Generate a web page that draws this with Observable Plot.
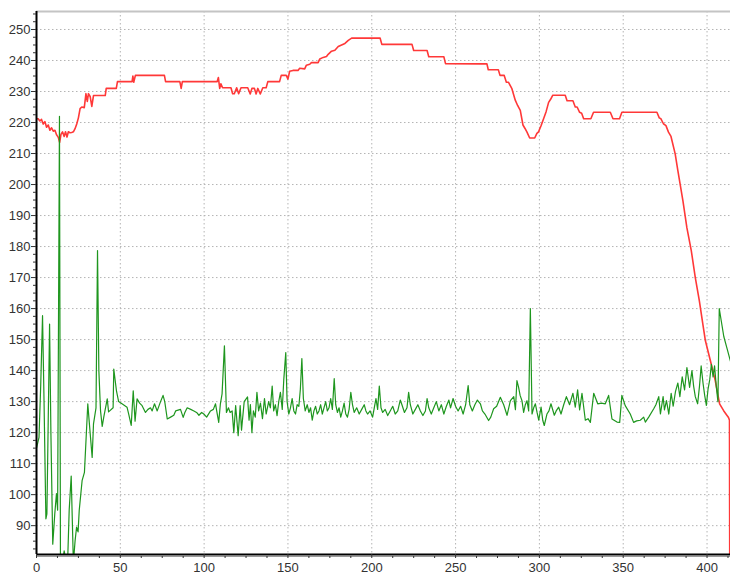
<!DOCTYPE html>
<html>
<head>
<meta charset="utf-8">
<script src="https://cdn.jsdelivr.net/npm/d3@7"></script>
<script src="https://cdn.jsdelivr.net/npm/@observablehq/plot@0.6"></script>
<style>
  body { margin: 0; background: #fff; }
</style>
</head>
<body>
<div id="chart"></div>
<script>
// Red trace: vertices (sample index, value)
const redX = [0,1,2,3,4,5,6,7,8,9,10,11,12,13,13.8,14.6,15.5,16.5,17.3,18.2,19,20,21,22,23,24,25,26,27,28.5,29.5,30.3,31,32,33,34,41,41.6,47.6,48.3,57,57.5,58,59,76.3,77,85.5,86.3,87,107.8,108.5,109.3,110,111,116,117,118,119.4,120.6,122,126,127.5,128.5,130,131,132,133.5,135,137,138,145,146,149,150,151,153,156,157,160,161,163,164,168,169,171,173,174,176,178,180,182,184,186,188,205,206,224,225,233,234,243,244,265,268.7,269.5,275.5,276.5,279,280.3,281.5,283.6,285.6,287,288.6,290.2,291.5,292.6,294.2,297.2,298.5,299.5,301,302.5,304,305.5,306.7,308,315.4,316.5,320,321.4,322.5,324,325.2,326.4,330.7,332.3,342.3,343.9,347.8,349.2,370.1,371.5,372.5,374,375.5,377,378.5,381,382.6,384,385.6,388,390.6,393,395.4,397.5,399,402,404.9,407.5,410,412.8,413.4,413.6];
const redY = [221.2,221.2,220.5,221,219.5,220.3,218.5,219.2,217.5,218.3,217.2,217.5,216,215.2,213.6,216.2,217,215.5,217,215.3,217,216.7,216.8,217,218,219.5,221.5,224.5,225,224.8,229.3,226.8,229.3,228.4,225.2,228.7,228.7,231,231,233.2,233.2,235,233,235.2,235.2,233.2,233.2,231,233.2,233.2,234.5,231,232.5,231.2,231.2,229.3,229.3,231.2,229.3,231.2,231.2,229.2,231,231,229.2,231,229.2,231.2,231.2,233.2,233.2,235.2,235.2,234,236.5,236.8,236.8,237.5,237.3,238.5,238.8,239.3,239.3,240.5,241,241.3,242,243,243.3,244.5,245,245.5,246.5,247.2,247.2,245.2,245.2,243.2,243.2,241.2,241.2,239,238.9,238.9,237,237,235.2,235.2,233,233,230.9,227.2,225.5,223.9,219.2,218,216.9,215,215,216.5,217,219,221.2,223.5,226.5,227.5,228.8,228.8,227,227,225,225,223.3,223,221.2,221.2,223.3,223.3,221.2,221.2,223.3,223.3,221.5,221.2,219.6,219,216.9,215.5,209.9,204.5,200,194.8,186,178.7,170,162.6,155,149.7,143.2,136.8,129.3,127,124.9,124,60];

// Green trace: vertices (sample index, value)
const greenX = [0,1.5,2.5,3.6,4.5,5.6,6.2,7.8,8.6,9.7,10.9,11.9,12.6,13.7,14.3,15.5,16.5,17.5,18.5,19.5,20.7,21.3,22,23,23.9,24.8,25.5,27.2,28.6,30.6,31.3,33.2,34,35.5,36.4,37.2,38.2,39.2,40.1,42.2,43,45.7,46.1,47.7,49,51,54,55,56.5,57.7,58.8,60,61.5,63,65,66.5,68,69,70.4,72,74,75.5,76.5,78,80,81.9,83,85.9,87.5,88.5,89.9,92,93.9,95.5,96.9,98.5,99.8,101.5,103.8,105.5,106.8,107.5,108.7,109.7,110.7,112.1,113.3,114.5,115.5,116.7,117.7,118.8,120.3,121.5,122.3,123.9,125.9,126.8,127.6,128.5,129.4,130.5,131.5,132.5,133.6,134.8,136,137,138.5,139.5,140.6,141.5,142.5,143.5,144.5,145.5,146.6,147.5,148.7,149.5,150.5,151.5,152.5,153.5,154.5,155.5,156.5,157.4,158.3,159.2,160.3,161.5,162.5,163.5,164.5,165.5,166.5,167.5,168.5,169.5,170.5,171.5,172.5,173.5,174.5,175.5,176.5,177.6,178.5,179.5,180.5,181.5,182.5,183.5,184.5,185.5,186.5,187.5,188.5,189.5,191,192.5,194,195.5,196.5,197.5,199,200.5,201.5,202.5,203.5,204.5,205.5,206.5,208,209.5,211,212.5,214,215.5,217,218,219.5,221,222,223,224.5,226,227.5,229,230.5,232,233,234,235.5,237,238.5,240,241.5,243,244.5,246,247,248.5,250,251.5,253,254.5,256,257.5,258.5,260,261.5,263,264.8,266,267.5,269.7,271,272.7,274.5,276.7,278.7,280.7,282.7,284.7,285.7,286.6,287.6,288.5,289.6,290.6,291.6,292.6,293.6,294.6,295.6,296.6,297.6,298.6,299.6,301,302,302.9,304.5,305.7,306.9,308.9,310,311.5,312.9,314.5,316.1,318,320,321.4,322.8,324,325.4,327.4,329,330.4,332.4,334.8,337,339.3,341.3,343.3,346.3,347.9,349.2,351.2,354.2,356.2,358,360.2,362.2,363.2,365.2,368.2,369.5,371.2,372.2,373.8,374.6,375.8,377.2,378.6,379.8,381.2,382.6,383.8,385.2,386.6,388,389.6,391,392,393,394.4,395.5,396.5,397.6,398.6,399.6,400.6,401.6,402.6,403.6,404.5,405.5,406.5,407.3,408.5,410,412,414];
const greenY = [115,118.5,135,157.7,130,92.2,93.8,155,119.6,84,93.8,100.3,95,222,76,78,81.9,79,77,95,106,93,78,85,89.5,88,95,104.5,107.2,129.3,124.5,112,122.8,128,178.7,140,127,122,124.9,130.9,126.7,128,140.5,133.5,130,129.3,128.2,126,122.3,133.5,123.7,130.9,129.5,128.7,126.5,127.5,128,127,129.3,127,130,132,130,124.4,125,125.6,127,127.5,124.9,126.5,128,127.5,127,126.5,125.6,126.5,126,125,127,127.5,129.3,127,123.3,129.3,132.5,148,126.5,128,126.5,127,120,128.7,119,128.7,120.8,130,131.5,124,129,120,127,125,133,127,129.5,124.5,131,126,130,128,135,127,129,125.5,130,133,127.5,137,145.8,130,126,128,131,127,126,129,128.5,134,143.9,131,127,129,126.5,128,124,127,128.5,126,127,129,126,128,130,127,128,131,127.5,137.4,129,126.5,128,125,127,129.5,126,125,127.5,133,129,126.5,128,126,127.5,129,127,126,127,125,128,131,127.5,135,128,126.5,127.5,125.5,127,128.5,126,127,130.5,129,126.5,128,133,129,126,127.5,129,127,125.5,127,131,128,126,128,130,127,129,126,128.5,130.5,128,131,128.5,127,128.5,126,129,135.2,129,127,129,130.5,129.3,127,126,123.9,125,127.7,128.5,131.4,129,125.6,130.3,131.6,127.4,136.8,134.6,132,130.3,126.5,129,130.3,127,160,126,128,129.3,126.5,124,128.2,124,122.3,126,127,129.3,125.6,127,128.2,126,129,131.6,129,132.7,128.2,133.8,127.3,132.7,124,124.5,123.3,132.7,129.3,129.5,129.3,132,124.4,123.4,123.3,132,128.7,126,123.3,123.8,124,125,123.4,125,127.7,129,131.6,126,131.6,127.3,130.3,126,132.7,128.5,133.3,136,131.6,138,133.8,141,134.6,140,135,131.6,129.3,135,141.5,136,132,128.8,134,137,142,138,141.5,135,130,160,156,151,147,143];

// Axis ticks
const xTicks = [0, 50, 100, 150, 200, 250, 300, 350, 400];
const yTicks = [90, 100, 110, 120, 130, 140, 150, 160, 170, 180, 190, 200, 210, 220, 230, 240, 250];
const xMinor = d3.range(0, 415, 12.5).filter(v => v % 50 !== 0);
const yMinor = d3.range(82.5, 255.8, 2.5).filter(v => v % 10 !== 0);

const xDomain = [0, 414];
const yDomain = [80.7, 255.8];

const red = redX.map((x, i) => ({x, y: redY[i]}));
const green = greenX.map((x, i) => ({x, y: greenY[i]}));

const chart = Plot.plot({
  width: 730,
  height: 574,
  marginLeft: 36,
  marginRight: 0,
  marginTop: 11,
  marginBottom: 20,
  x: {domain: xDomain},
  y: {domain: yDomain},
  style: {
    fontFamily: "'Liberation Sans', Arial, sans-serif",
    fontSize: "13px",
    color: "#333",
    background: "#fff",
    overflow: "visible"
  },
  marks: [
    Plot.gridX(xTicks.filter(d => d > 0), {stroke: "#b4b4b4", strokeOpacity: 1, strokeDasharray: "1.5,2.5"}),
    Plot.gridY(yTicks, {stroke: "#b4b4b4", strokeOpacity: 1, strokeDasharray: "1.5,2.5"}),
    Plot.line(red, {x: "x", y: "y", stroke: "#ff3838", strokeWidth: 1.6, clip: true}),
    Plot.line(green, {x: "x", y: "y", stroke: "#1e961e", strokeWidth: 1.2, clip: true}),
    Plot.ruleY([yDomain[1]], {stroke: "#c4c4c4", strokeWidth: 2}),
    Plot.ruleY([yDomain[0]], {stroke: "#9a9a9a", strokeWidth: 1, dy: 2}),
    Plot.ruleY([yDomain[0]], {stroke: "#000", strokeWidth: 2}),
    Plot.ruleX([xDomain[0]], {stroke: "#000", strokeWidth: 2}),
    Plot.axisY(yTicks, {tickSize: 5, tickPadding: 1, fontSize: 13, label: null}),
    Plot.axisY(yMinor, {tickSize: 3, text: null, label: null}),
    Plot.axisX(xTicks, {tickSize: 4, tickPadding: 4, fontSize: 13, label: null}),
    Plot.axisX(xMinor, {tickSize: 2, text: null, label: null, dy: 2})
  ]
});

document.getElementById("chart").append(chart);
</script>
</body>
</html>
